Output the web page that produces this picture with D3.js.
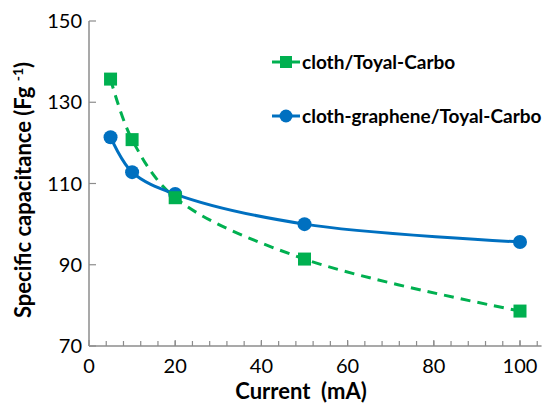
<!DOCTYPE html>
<html>
<head>
<meta charset="utf-8">
<script src="https://cdn.jsdelivr.net/npm/d3@7"></script>
<style>
  body { margin: 0; background: #fff; }
  svg text { font-family: Lato, 'Open Sans', sans-serif; fill: #000; }
</style>
</head>
<body>
<svg width="544" height="403"></svg>
<script>
  const currents = [5, 10, 20, 50, 100]
  const clothCap = [135.7, 120.8, 106.5, 91.4, 78.6]
  const grapheneCap = [121.4, 112.8, 107.4, 100.0, 95.6]
  const xTicks = [0, 20, 40, 60, 80, 100]
  const yTicks = [70, 90, 110, 130, 150]

  const svg = d3.select('svg')
  const x = d3.scaleLinear().domain([0, 100]).range([89, 520])
  const y = d3.scaleLinear().domain([70, 150]).range([346, 21])
  const axisColor = '#8c8c8c'

  // axis lines
  svg.append('line').attr('x1', 89).attr('x2', 89).attr('y1', y(150)).attr('y2', y(70))
    .attr('stroke', axisColor).attr('stroke-width', 1.5)
  svg.append('line').attr('x1', 89).attr('x2', x(105)).attr('y1', y(70)).attr('y2', y(70))
    .attr('stroke', axisColor).attr('stroke-width', 1.5)

  // x ticks: minor every 4, all pointing up
  const minor = d3.range(4, 105, 4)
  svg.selectAll('line.xminor').data(minor).enter().append('line')
    .attr('x1', d => x(d)).attr('x2', d => x(d))
    .attr('y1', y(70)).attr('y2', y(70) - 5)
    .attr('stroke', axisColor).attr('stroke-width', 1.2)
  svg.selectAll('line.xmajor').data(xTicks).enter().append('line')
    .attr('x1', d => x(d)).attr('x2', d => x(d))
    .attr('y1', y(70)).attr('y2', y(70) - 6)
    .attr('stroke', axisColor).attr('stroke-width', 1.2)
  svg.selectAll('text.xlab').data(xTicks).enter().append('text')
    .attr('x', d => x(d)).attr('y', 373)
    .attr('text-anchor', 'middle').attr('font-size', 20)
    .text(d => d)

  // y ticks pointing inward
  svg.selectAll('line.ytick').data(yTicks).enter().append('line')
    .attr('x1', 89).attr('x2', 96)
    .attr('y1', d => y(d)).attr('y2', d => y(d))
    .attr('stroke', axisColor).attr('stroke-width', 1.2)
  svg.selectAll('text.ylab').data(yTicks).enter().append('text')
    .attr('x', 82).attr('y', d => y(d) + 7)
    .attr('text-anchor', 'end').attr('font-size', 20)
    .text(d => d)

  // axis titles
  svg.append('text').attr('x', 301).attr('y', 399)
    .attr('text-anchor', 'middle').attr('font-size', 22).attr('font-weight', 'bold')
    .attr('xml:space', 'preserve')
    .text('Current  (mA)')
  const yt = svg.append('text')
    .attr('transform', 'translate(31,190) rotate(-90)')
    .attr('text-anchor', 'middle').attr('font-size', 22).attr('font-weight', 'bold')
    .attr('xml:space', 'preserve')
  yt.append('tspan').text('Specific capacitance (Fg ')
  yt.append('tspan').attr('font-size', 14).attr('dy', -8).text('-1')
  yt.append('tspan').attr('dy', 8).text(')')

  const green = '#00b050'
  const blue = '#0070c0'
  const line = d3.line().x(d => x(d[0])).y(d => y(d[1])).curve(d3.curveCatmullRom.alpha(0.5))
  const clothPts = currents.map((c, i) => [c, clothCap[i]])
  const graphenePts = currents.map((c, i) => [c, grapheneCap[i]])

  svg.append('path').attr('d', line(clothPts)).attr('fill', 'none')
    .attr('stroke', green).attr('stroke-width', 3).attr('stroke-dasharray', '10,7')
  svg.append('path').attr('d', line(graphenePts)).attr('fill', 'none')
    .attr('stroke', blue).attr('stroke-width', 3)

  svg.selectAll('circle.g').data(graphenePts).enter().append('circle')
    .attr('cx', d => x(d[0])).attr('cy', d => y(d[1])).attr('r', 7)
    .attr('fill', blue)
  svg.selectAll('rect.c').data(clothPts).enter().append('rect')
    .attr('x', d => x(d[0]) - 6.5).attr('y', d => y(d[1]) - 6.5)
    .attr('width', 13).attr('height', 13)
    .attr('fill', green)

  // legend
  const legend = [
    { name: 'cloth/Toyal-Carbo', color: green, shape: 'square', ly: 62 },
    { name: 'cloth-graphene/Toyal-Carbo', color: blue, shape: 'circle', ly: 116 }
  ]
  legend.forEach(function (l) {
    svg.append('line').attr('x1', 272).attr('x2', 300).attr('y1', l.ly).attr('y2', l.ly)
      .attr('stroke', l.color).attr('stroke-width', 3)
    if (l.shape === 'square') {
      svg.append('rect').attr('x', 280).attr('y', l.ly - 6).attr('width', 12).attr('height', 12)
        .attr('fill', l.color)
    } else {
      svg.append('circle').attr('cx', 286).attr('cy', l.ly).attr('r', 6.5).attr('fill', l.color)
    }
    svg.append('text').attr('x', 302).attr('y', l.ly + 6.5)
      .attr('font-size', 19).attr('font-weight', 'bold')
      .text(l.name)
  })
</script>
</body>
</html>
